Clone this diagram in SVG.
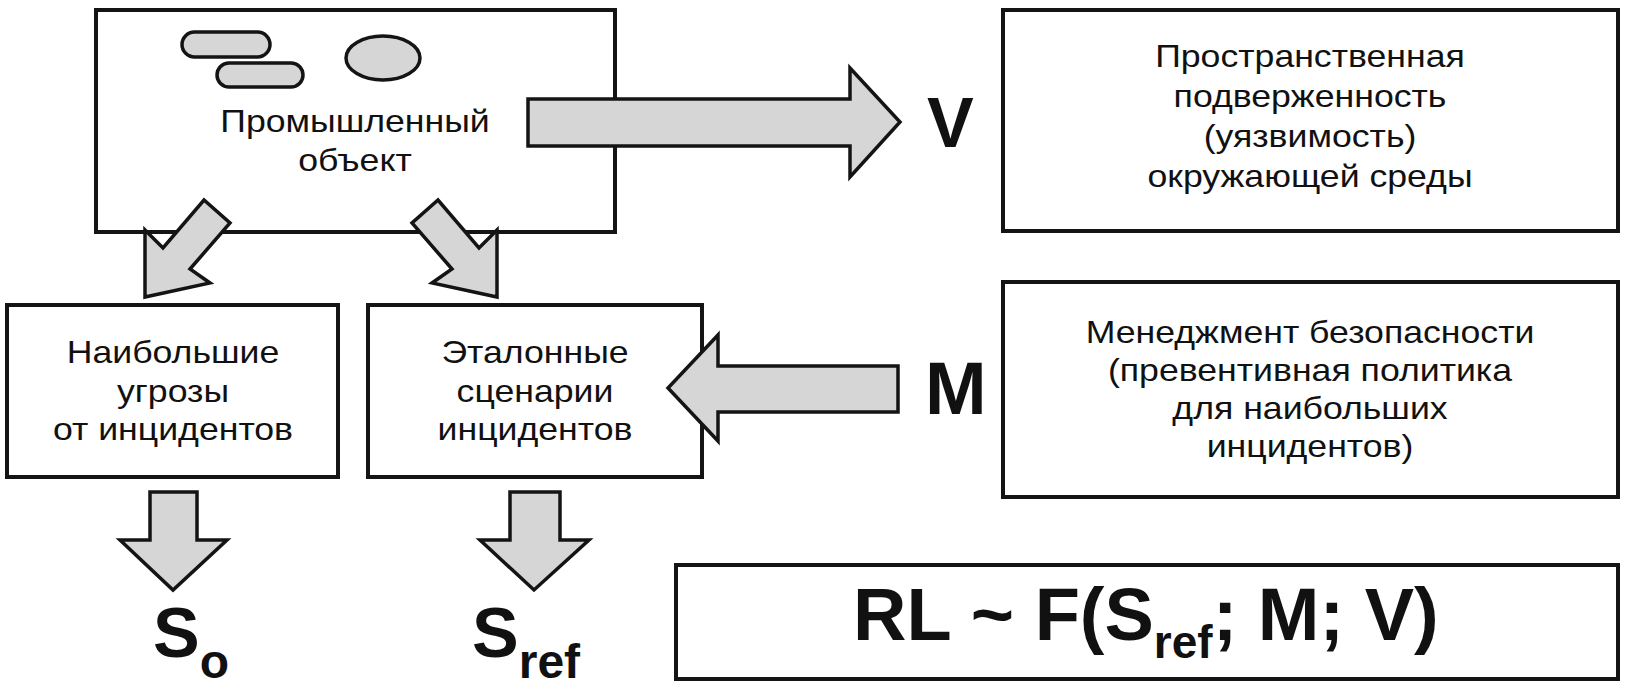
<svg xmlns="http://www.w3.org/2000/svg" width="1638" height="690" viewBox="0 0 1638 690">
<style>
.box{fill:#fff;stroke:#141414;stroke-width:4}
.arr{fill:#d6d6d6;stroke:#141414;stroke-width:3.5;stroke-linejoin:miter}
.shape{fill:#d6d6d6;stroke:#141414;stroke-width:3.5}
.t{font-family:"Liberation Sans",Arial,sans-serif;font-size:31px;fill:#111;text-anchor:middle}
.b{font-family:"Liberation Sans",Arial,sans-serif;font-weight:bold;fill:#111}
</style>
<rect width="1638" height="690" fill="#fff"/>
<g id="node-object">
<rect class="box" x="96" y="10" width="519" height="222"/>
<rect class="shape" x="182" y="32" width="88" height="25" rx="12.5"/>
<rect class="shape" x="217" y="63" width="86" height="24" rx="12"/>
<ellipse class="shape" cx="383" cy="58" rx="37" ry="22"/>
<g transform="translate(355 0) scale(1.15 1)">
<text class="t" x="0" y="132">Промышленный</text>
<text class="t" x="0" y="171">объект</text>
</g>
</g>
<g id="node-threats">
<rect class="box" x="7" y="305" width="331" height="172"/>
<g transform="translate(173 0) scale(1.15 1)">
<text class="t" x="0" y="363">Наибольшие</text>
<text class="t" x="0" y="402">угрозы</text>
<text class="t" x="0" y="440">от инцидентов</text>
</g>
</g>
<g id="node-scenarios">
<rect class="box" x="368" y="305" width="334" height="172"/>
<g transform="translate(535 0) scale(1.15 1)">
<text class="t" x="0" y="363">Эталонные</text>
<text class="t" x="0" y="402">сценарии</text>
<text class="t" x="0" y="440">инцидентов</text>
</g>
</g>
<g id="node-vulnerability">
<rect class="box" x="1003" y="10" width="615" height="221"/>
<g transform="translate(1310 0) scale(1.15 1)">
<text class="t" x="0" y="67">Пространственная</text>
<text class="t" x="0" y="107">подверженность</text>
<text class="t" x="0" y="147">(уязвимость)</text>
<text class="t" x="0" y="187">окружающей среды</text>
</g>
</g>
<g id="node-management">
<rect class="box" x="1003" y="282" width="615" height="215"/>
<g transform="translate(1310 0) scale(1.15 1)">
<text class="t" x="0" y="343">Менеджмент безопасности</text>
<text class="t" x="0" y="381">(превентивная политика</text>
<text class="t" x="0" y="419">для наибольших</text>
<text class="t" x="0" y="457">инцидентов)</text>
</g>
</g>
<g id="node-formula">
<rect class="box" x="676" y="565" width="942" height="114" stroke-width="5"/>
<text class="b" x="853" y="640" font-size="74">RL ~ F(S<tspan font-size="46" dy="18">ref</tspan><tspan dy="-18">; M; V)</tspan></text>
</g>
<g id="node-V"><text class="b" x="927" y="147" font-size="70">V</text></g>
<g id="node-M"><text class="b" x="925" y="414" font-size="74">M</text></g>
<g id="node-So"><text class="b" x="153" y="657" font-size="70">S<tspan font-size="48" dy="21">o</tspan></text></g>
<g id="node-Sref"><text class="b" x="472" y="657" font-size="70">S<tspan font-size="48" dy="21">ref</tspan></text></g>
<g id="connectors">
<polygon class="arr" points="528,99 850,99 850,68 900,122 850,177 850,146 528,146"/>
<polygon class="arr" points="898,366 718,366 718,335 668,388 718,441 718,412 898,412"/>
<polygon class="arr" points="145,230 163,248 204,200 230,223 190,269 210,283 145,297"/>
<polygon class="arr" points="497,230 479,248 438,200 412,223 452,269 432,283 497,297"/>
<polygon class="arr" points="150,492 197,492 197,540 227,540 173,590 120,540 150,540"/>
<polygon class="arr" points="510,492 560,492 560,540 589,540 534,590 480,540 510,540"/>
</g>
</svg>
